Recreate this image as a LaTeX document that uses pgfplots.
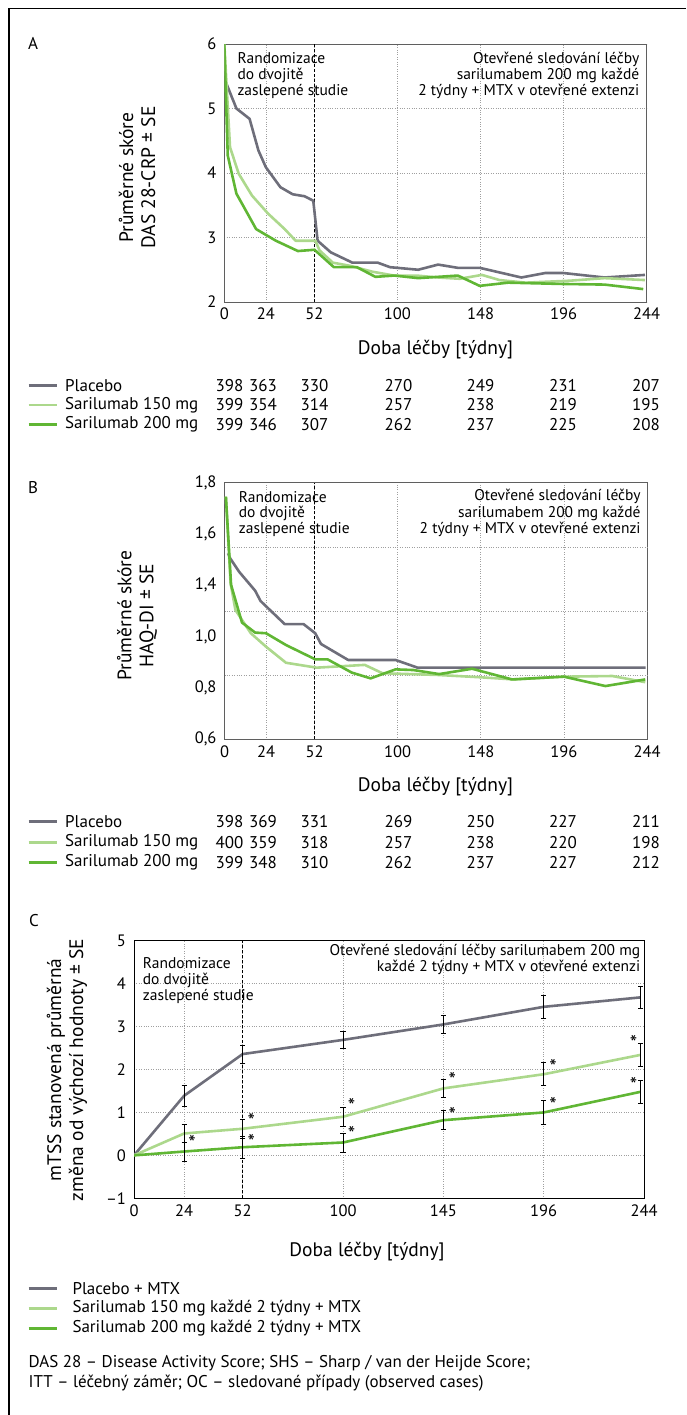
\documentclass[border=0pt]{standalone}
\usepackage{fontspec}
\setmainfont{PT Sans}
\usepackage{pgfplots}
\pgfplotsset{compat=1.18}

\definecolor{plc}{RGB}{110,110,122}
\definecolor{s150}{RGB}{172,216,140}
\definecolor{s200}{RGB}{96,182,52}
\definecolor{frm}{RGB}{95,95,95}

\newcommand\fTick{\fontsize{16.5}{18}\selectfont}
\newcommand\fNote{\fontsize{15.5}{16.7}\selectfont}
\newcommand\fLab{\fontsize{19.5}{22}\selectfont}
\newcommand\fLeg{\fontsize{17}{20}\selectfont}

\pgfplotsset{
  panel/.style={
    scale only axis, anchor=south west,
    xmin=0, xmax=244,
    xtick={0,24,52,100,148,196,244},
    major tick length=0pt,
    grid style={dotted, gray!75, line width=0.6pt},
    axis line style={frm, line width=1pt},
    tick label style={font=\fTick},
    xticklabel style={yshift=-2.5pt},
    yticklabel style={xshift=-4.5pt},
  },
  crv/.style={line width=2.6pt, line join=round, mark=none},
  divider/.style={black, dash pattern=on 3pt off 2pt, line width=0.8pt, forget plot},
  ebar/.style={draw=none, mark=none, forget plot,
    error bars/.cd, y dir=both, y explicit, error mark=|,
    error bar style={draw=black, solid, line width=0.8pt},
    error mark options={draw=black, solid, line width=0.8pt, mark size=2.6pt}},
}

\begin{document}
\begin{tikzpicture}
\useasboundingbox (0,0) rectangle (686pt,-1415pt);
\draw[black, line width=1.2pt] (9pt,-1415pt) -- (9pt,-8.3pt) -- (686pt,-8.3pt);

% ---------------- A
\begin{axis}[panel, at={(224.3pt,-302pt)}, width=422.4pt, height=258pt,
  ymin=2, ymax=6, ytick={2,3,4,5,6}, yticklabels={2,3,4,5,6},
  xticklabels={0,24,52,100,148,196,244},
  xmajorgrids, ymajorgrids]
\addplot[divider] coordinates {(52,2) (52,6)};
\addplot[crv, plc] coordinates {
  (1,5.40) (7,5.0) (14.6,4.84) (19.7,4.35) (24,4.09) (32.4,3.78) (39.5,3.67)
  (46.3,3.64) (51.4,3.57) (53.9,2.95) (61.5,2.77) (74,2.61) (88.6,2.61)
  (95.7,2.54) (112,2.50) (123.5,2.58) (134.8,2.53) (147.5,2.53) (171.6,2.38)
  (185.5,2.45) (195.6,2.45) (219.6,2.38) (243,2.42)};
\addplot[crv, s150] coordinates {
  (0,6.0) (3.3,4.4) (8.3,3.99) (16,3.65) (25.3,3.37) (34.9,3.13) (41.2,2.95)
  (52.6,2.95) (55,2.8) (62.7,2.61) (72.8,2.56) (85.5,2.47) (98,2.41) (111,2.41)
  (123.5,2.38) (136,2.36) (148.8,2.42) (159,2.34) (174,2.30) (199.5,2.33)
  (219.6,2.37) (243,2.34)};
\addplot[crv, s200] coordinates {
  (0,6.0) (2,4.27) (7,3.68) (18.4,3.13) (29.8,2.95) (42.5,2.79) (52.1,2.81)
  (63.3,2.54) (76.6,2.54) (87.3,2.39) (98.2,2.41) (112,2.37) (134.9,2.41)
  (147.5,2.25) (164,2.30) (194.6,2.28) (219.6,2.27) (242,2.20)};
\end{axis}

% ---------------- B
\begin{axis}[panel, at={(224.5pt,-739.3pt)}, width=422.5pt, height=256.6pt,
  ymin=0.6, ymax=1.8, ytick={0.6,0.84,1.08,1.32,1.56,1.8},
  yticklabels={{0,6},{0,8},{1,0},{1,4},{1,6},{1,8}},
  xticklabels={0,24,52,100,148,196,244},
  xmajorgrids, ymajorgrids=false,
  extra y ticks={0.9,1.2,1.5}, extra y tick labels={},
  extra y tick style={grid=major}]
\addplot[divider] coordinates {(52,0.6) (52,1.8)};
\addplot[crv, plc] coordinates {
  (2,1.47) (3.3,1.446) (8.4,1.384) (17.7,1.295) (20.8,1.247) (34.7,1.139)
  (45.6,1.139) (52.4,1.096) (55.7,1.046) (71.4,0.971) (98.8,0.971)
  (111.5,0.935) (243.2,0.935)};
\addplot[crv, s150] coordinates {
  (0.8,1.735) (3.5,1.33) (6.3,1.205) (15.2,1.096) (24,1.033) (35.5,0.958)
  (53.2,0.935) (81,0.948) (91.2,0.909) (123,0.901) (148,0.89) (167,0.88)
  (196,0.893) (224,0.896) (243,0.867)};
\addplot[crv, s200] coordinates {
  (0.8,1.735) (3.8,1.322) (10.1,1.146) (17.7,1.099) (24,1.096) (35.5,1.041)
  (52.4,0.974) (59.5,0.974) (73.5,0.912) (84.4,0.885) (98.8,0.927) (109,0.924)
  (124,0.905) (143,0.930) (166,0.880) (196,0.893) (220,0.849) (243,0.880)};
\end{axis}

% ---------------- C
\begin{axis}[panel, at={(134pt,-1198.3pt)}, width=510pt, height=257.6pt,
  axis line style={black, line width=1pt},
  ymin=-1, ymax=5, ytick={-1,0,1,2,3,4,5},
  yticklabels={–1,0,1,2,3,4,5},
  xticklabels={0,24,52,100,145,196,244},
  xmajorgrids, ymajorgrids]
\addplot[divider] coordinates {(52,-1) (52,5)};
\addplot[crv, plc] coordinates {(0,0) (24,1.39) (52,2.36) (100,2.69) (148,3.05) (196,3.46) (242.3,3.68)};
\addplot[crv, s150] coordinates {(0,0) (24,0.51) (52,0.62) (100,0.90) (148,1.56) (196,1.89) (242.3,2.34)};
\addplot[crv, s200] coordinates {(0,0) (24,0.09) (52,0.19) (100,0.30) (148,0.82) (196,1.00) (242.3,1.48)};
\addplot[ebar] coordinates {(24,1.39) +- (0,0.24) (52,2.36) +- (0,0.21) (100,2.69) +- (0,0.20)
  (148,3.05) +- (0,0.20) (196,3.46) +- (0,0.26) (242.3,3.68) +- (0,0.26)};
\addplot[ebar] coordinates {(24,0.51) +- (0,0.21) (52,0.62) +- (0,0.22) (100,0.90) +- (0,0.22)
  (148,1.56) +- (0,0.22) (196,1.89) +- (0,0.27) (242.3,2.34) +- (0,0.27)};
\addplot[ebar] coordinates {(24,0.09) +- (0,0.22) (52,0.19) +- (0,0.26) (100,0.30) +- (0,0.22)
  (148,0.82) +- (0,0.22) (196,1.00) +- (0,0.27) (242.3,1.48) +- (0,0.27)};
\begin{scope}[font=\fontsize{21}{21}\selectfont, inner sep=0pt]
\node at (axis cs:24,0.29) [xshift=8pt] {*};
\node at (axis cs:52,0.81) [xshift=8.5pt] {*};
\node at (axis cs:52,0.32) [xshift=8.5pt] {*};
\node at (axis cs:100,1.16) [xshift=8.5pt] {*};
\node at (axis cs:100,0.50) [xshift=8.5pt] {*};
\node at (axis cs:148,1.76) [xshift=9pt] {*};
\node at (axis cs:148,0.94) [xshift=9pt] {*};
\node at (axis cs:196,2.05) [xshift=9.5pt] {*};
\node at (axis cs:196,1.18) [xshift=9.5pt] {*};
\node at (axis cs:242.3,2.62) [xshift=-7pt] {*};
\node at (axis cs:242.3,1.64) [xshift=-7pt] {*};
\end{scope}
\end{axis}

\begin{scope}[x=1pt, y=-1pt]
% panel letters
\node[font=\fLeg] at (33,43.3) {A};
\node[font=\fLeg] at (33,487.5) {B};
\node[font=\fLeg] at (34,921) {C};

\begin{scope}[font=\fNote, inner sep=0pt]
% notes A
\node[anchor=west] at (237.3,58.3) {Randomizace};
\node[anchor=west] at (237.3,75) {do dvojitě};
\node[anchor=west] at (237.3,91) {zaslepené studie};
\node[anchor=east] at (639.5,59.3) {Otevřené sledování léčby};
\node[anchor=east] at (639.5,75) {sarilumabem 200 mg každé};
\node[anchor=east] at (639.5,91) {2 týdny + MTX v otevřené extenzi};
% notes B
\node[anchor=west] at (238.7,496.7) {Randomizace};
\node[anchor=west] at (238.7,513.3) {do dvojitě};
\node[anchor=west] at (238.7,529.3) {zaslepené studie};
\node[anchor=east] at (640.8,496.7) {Otevřené sledování léčby};
\node[anchor=east] at (640.8,513.3) {sarilumabem 200 mg každé};
\node[anchor=east] at (640.8,529.3) {2 týdny + MTX v otevřené extenzi};
% notes C
\node[anchor=west] at (142.7,962.7) {Randomizace};
\node[anchor=west] at (142.7,980) {do dvojitě};
\node[anchor=west] at (142.7,996.7) {zaslepené studie};
\node[anchor=east] at (640.4,951.7) {Otevřené sledování léčby sarilumabem 200 mg};
\node[anchor=east] at (640.4,967.3) {každé 2 týdny + MTX v otevřené extenzi};
\end{scope}

% axis labels
\node[font=\fLab] at (435.5,350) {Doba léčby [týdny]};
\node[font=\fLab] at (435.5,786.7) {Doba léčby [týdny]};
\node[font=\fLab] at (367,1251.7) {Doba léčby [týdny]};
\node[font=\fLab, rotate=90, align=center] at (137,177.5) {Průměrné skóre\\DAS 28-CRP ± SE};
\node[font=\fLab, rotate=90, align=center] at (137,615.5) {Průměrné skóre\\HAQ-DI ± SE};
\node[font=\fLab, rotate=90, align=center] at (67,1070) {mTSS stanovená průměrná\\změna od výchozí hodnoty ± SE};

\begin{scope}[font=\fLeg]
% legend tables A and B
\foreach \yy/\nm/\cc in {385.7/Placebo/plc, 405/Sarilumab 150 mg/s150, 424.3/Sarilumab 200 mg/s200,
                         821.7/Placebo/plc, 842.3/Sarilumab 150 mg/s150, 862.7/Sarilumab 200 mg/s200}{
  \draw[\cc, line width=2.6pt] (28.5,\yy) -- (57,\yy);
  \node[anchor=west, inner sep=0pt] at (65,\yy) {\nm};
}
\foreach \yy/\a/\b/\c/\d/\e/\f/\g in {
  385.7/398/363/330/270/249/231/207, 405/399/354/314/257/238/219/195, 424.3/399/346/307/262/237/225/208,
  821.7/398/369/331/269/250/227/211, 842.3/400/359/318/257/238/220/198, 862.7/399/348/310/262/237/227/212}{
  \node at (229.5,\yy) {\a};
  \node at (263,\yy) {\b};
  \node at (314.5,\yy) {\c};
  \node at (398.6,\yy) {\d};
  \node at (480.5,\yy) {\e};
  \node at (563,\yy) {\f};
  \node at (646,\yy) {\g};
}
% legend C
\foreach \yy/\nm/\cc in {1288.3/Placebo + MTX/plc, 1308.3/Sarilumab 150 mg každé 2 týdny + MTX/s150,
                         1328.3/Sarilumab 200 mg každé 2 týdny + MTX/s200}{
  \draw[\cc, line width=2.6pt] (28.5,\yy) -- (57,\yy);
  \node[anchor=west, inner sep=0pt] at (72.3,\yy) {\nm};
}
\node[anchor=west, inner sep=0pt] at (28.5,1363.3) {DAS 28 – Disease Activity Score; SHS – Sharp / van der Heijde Score;};
\node[anchor=west, inner sep=0pt] at (28.5,1383.3) {ITT – léčebný záměr; OC – sledované případy (observed cases)};
\end{scope}
\end{scope}
\end{tikzpicture}
\end{document}
